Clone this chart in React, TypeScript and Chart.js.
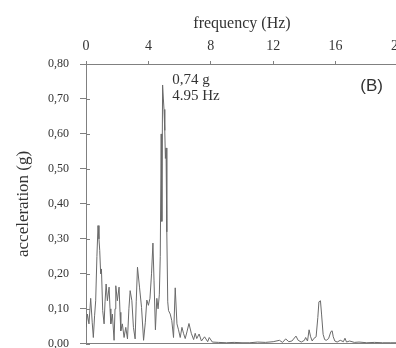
import React, { useEffect, useRef } from 'react';
import { Chart, registerables } from 'chart.js';
Chart.register(...registerables);

const freqHz = [
  0.0, 0.09, 0.19, 0.3, 0.4, 0.47, 0.55, 0.62, 0.7, 0.77, 0.83, 0.88, 0.94, 0.99,
  1.07, 1.16, 1.22, 1.29, 1.37, 1.48, 1.54, 1.59, 1.69, 1.8, 1.86, 1.91,
  2.01, 2.12, 2.18, 2.23, 2.33, 2.44, 2.55, 2.66, 2.75, 2.83, 2.94,
  3.04, 3.15, 3.22, 3.3, 3.43, 3.56, 3.69, 3.8, 3.9,
  4.0, 4.1, 4.2, 4.29, 4.36, 4.45, 4.54, 4.62, 4.7, 4.76, 4.82, 4.86, 4.91, 4.96,
  5.0, 5.05, 5.09, 5.13, 5.18, 5.24, 5.29, 5.4, 5.5, 5.61, 5.72, 5.83, 5.93,
  6.04, 6.15, 6.25, 6.36, 6.47, 6.6, 6.75, 6.9, 7.0, 7.1, 7.25, 7.4, 7.6, 7.8, 7.9,
  8.1, 8.5, 9.0, 9.5, 10.0, 10.5, 11.0, 11.5, 12.0, 12.4, 12.6, 12.8, 13.0, 13.2,
  13.46, 13.6, 13.8, 14.0, 14.08, 14.2, 14.3, 14.4, 14.5, 14.6, 14.75, 14.86, 14.93,
  15.03, 15.1, 15.2, 15.3, 15.4, 15.55, 15.7, 15.78, 15.85, 15.95, 16.1, 16.3, 16.5,
  16.6, 16.7, 16.9, 17.2, 17.5, 18.0, 18.5, 19.0, 19.5, 20.0,
];
const accelG = [
  0.047, 0.085, 0.057, 0.13, 0.06, 0.018, 0.08, 0.123, 0.25, 0.338, 0.3, 0.267, 0.2, 0.214,
  0.095, 0.057, 0.12, 0.171, 0.123, 0.162, 0.1, 0.057, 0.085, 0.01, 0.1, 0.166,
  0.123, 0.162, 0.09, 0.037, 0.057, 0.018, 0.047, 0.014, 0.1, 0.152, 0.123,
  0.047, 0.014, 0.12, 0.219, 0.162, 0.104, 0.01, 0.06, 0.125,
  0.11, 0.13, 0.2, 0.288, 0.18, 0.04, 0.13, 0.1, 0.14, 0.25, 0.6, 0.35, 0.74, 0.7,
  0.67, 0.61, 0.53, 0.56, 0.32, 0.12, 0.095, 0.085, 0.066, 0.018, 0.16, 0.057, 0.04,
  0.018, 0.047, 0.03, 0.015, 0.034, 0.058, 0.03, 0.012, 0.03, 0.015, 0.028, 0.008, 0.02, 0.006, 0.018,
  0.005, 0.004, 0.003, 0.004, 0.003, 0.003, 0.005, 0.004, 0.006, 0.01, 0.004, 0.014, 0.006, 0.008,
  0.022, 0.01, 0.005, 0.01, 0.018, 0.008, 0.04, 0.02, 0.008, 0.015, 0.02, 0.075, 0.12,
  0.123, 0.085, 0.027, 0.012, 0.01, 0.015, 0.035, 0.037, 0.02, 0.008, 0.005, 0.01, 0.006,
  0.016, 0.005, 0.008, 0.004, 0.005, 0.003, 0.004, 0.003, 0.003, 0.003,
];
const xTickValues = [0, 4, 8, 12, 16, 20];
const xMin = 0;
const xMax = 20;
const yMin = 0;
const yMax = 0.8;
const yStep = 0.1;
const peakFreq = 4.95;
const peakAcc = 0.74;
const peakLabelAcc = '0,74 g';
const peakLabelFreq = '4.95 Hz';
const panelLabel = '(B)';
const xTitle = 'frequency (Hz)';
const yTitle = 'acceleration (g)';

const SERIF = '"Liberation Serif", "Times New Roman", serif';
const SANS = '"Liberation Sans", Arial, sans-serif';
const AXIS = '#808080';
const TEXT = '#333333';

const annotPlugin = {
  id: 'annot',
  afterDatasetsDraw(chart: any) {
    const { ctx, scales, chartArea } = chart;
    const x = scales.x;
    const y = scales.y;
    ctx.save();
    ctx.strokeStyle = AXIS;
    ctx.lineWidth = 1;
    y.ticks.forEach((t: any) => {
      const py = Math.round(y.getPixelForValue(t.value)) + 0.5;
      ctx.beginPath();
      ctx.moveTo(chartArea.left, py);
      ctx.lineTo(chartArea.left + 4, py);
      ctx.stroke();
    });
    const px = x.getPixelForValue(peakFreq);
    const py = y.getPixelForValue(peakAcc);
    ctx.fillStyle = TEXT;
    ctx.font = `15px ${SERIF}`;
    ctx.textBaseline = 'middle';
    ctx.textAlign = 'left';
    ctx.fillText(peakLabelAcc, px + 9, py - 5);
    ctx.fillText(peakLabelFreq, px + 9, py + 11);
    ctx.font = `17px ${SANS}`;
    ctx.textAlign = 'right';
    ctx.fillText(panelLabel, chartArea.right - 15, chartArea.top + 22);
    ctx.restore();
  },
};

export default function App() {
  const ref = useRef<HTMLCanvasElement | null>(null);
  useEffect(() => {
    if (!ref.current) return;
    const chart = new Chart(ref.current, {
      type: 'line',
      data: {
        datasets: [
          {
            data: freqHz.map((f, i) => ({ x: f, y: accelG[i] })),
            borderColor: '#6a6a6a',
            borderWidth: 1,
            pointRadius: 0,
            tension: 0,
            fill: false,
          },
        ],
      },
      options: {
        animation: false,
        responsive: false,
        layout: { padding: { left: 0, right: 0, top: 0, bottom: 0 } },
        plugins: { legend: { display: false }, tooltip: { enabled: false } },
        scales: {
          x: {
            type: 'linear',
            position: 'top',
            min: xMin,
            max: xMax,
            afterBuildTicks: (s: any) => {
              s.ticks = xTickValues.map((v) => ({ value: v }));
            },
            afterFit: (s: any) => {
              s.height = 64;
            },
            ticks: {
              color: TEXT,
              font: { family: SERIF, size: 14 },
              padding: 6,
              maxRotation: 0,
              autoSkip: false,
            },
            grid: { drawOnChartArea: false, tickLength: 3, color: AXIS },
            border: { display: true, color: AXIS, width: 1 },
            title: {
              display: true,
              text: xTitle,
              color: TEXT,
              font: { family: SERIF, size: 16 },
              padding: { top: 14, bottom: 0 },
            },
          },
          y: {
            type: 'linear',
            min: yMin,
            max: yMax,
            afterFit: (s: any) => {
              s.width = 86;
            },
            ticks: {
              stepSize: yStep,
              color: TEXT,
              font: { family: SERIF, size: 12 },
              padding: 11,
              callback: (v: any) => Number(v).toFixed(2).replace('.', ','),
            },
            grid: {
              drawOnChartArea: true,
              tickLength: 6,
              color: (c: any) => (c.tick && Math.abs(c.tick.value) < 1e-9 ? AXIS : 'rgba(0,0,0,0)'),
              tickColor: AXIS,
            },
            border: { display: true, color: AXIS, width: 1 },
            title: {
              display: true,
              text: yTitle,
              color: TEXT,
              font: { family: SERIF, size: 17 },
              padding: { top: 13, bottom: 0 },
            },
          },
        },
      },
      plugins: [annotPlugin],
    } as any);
    return () => chart.destroy();
  }, []);
  return (
    <div
      style={{
        position: 'fixed',
        left: 0,
        top: 0,
        width: 396,
        height: 348,
        overflow: 'hidden',
        background: '#fff',
      }}
    >
      <canvas ref={ref} width={411} height={362} style={{ display: 'block' }} />
    </div>
  );
}
